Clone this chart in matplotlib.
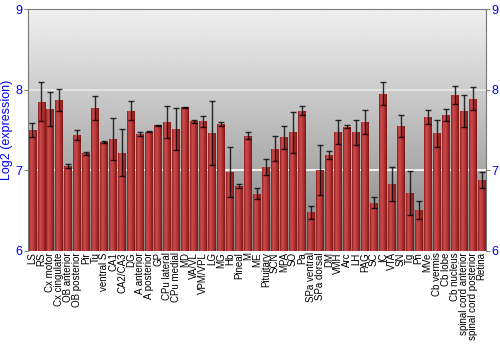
import matplotlib.pyplot as plt
import numpy as np
from matplotlib.colors import LinearSegmentedColormap

plt.rcParams['font.family'] = ['Liberation Sans', 'DejaVu Sans']

# brain regions
regions = ['LS', 'RS', 'Cx motor', 'Cx cingulate', 'OB anterior', 'OB posterior',
           'Pir', 'Tu', 'ventral S', 'CA1', 'CA2/CA3', 'DG', 'A anterior',
           'A posterior', 'GP', 'CPu lateral', 'CPu medial', 'MD', 'VA/VL',
           'VPM/VPL', 'LG', 'MG', 'Hb', 'Pineal', 'M', 'ME', 'Pituitary', 'SCN',
           'MPA', 'SO', 'Pa', 'SPa ventral', 'SPa dorsal', 'DM', 'VMH', 'Arc',
           'LH', 'PAG', 'SC', 'IC', 'VTA', 'SN', 'Tg', 'Pn', 'MVe', 'Cb vermis',
           'Cb lobe', 'Cb nucleus', 'spinal cord anterior', 'spinal cord posterior',
           'Retina']

# mean log2 expression
means = [7.50, 7.85, 7.76, 7.87, 7.05, 7.44, 7.21, 7.77, 7.35, 7.39, 7.22, 7.74,
         7.45, 7.48, 7.56, 7.60, 7.51, 7.78, 7.61, 7.61, 7.46, 7.58, 6.98, 6.81,
         7.43, 6.71, 7.04, 7.27, 7.41, 7.47, 7.74, 6.48, 7.01, 7.19, 7.48, 7.54,
         7.47, 7.60, 6.60, 7.95, 6.83, 7.55, 6.72, 6.51, 7.66, 7.46, 7.69, 7.93,
         7.74, 7.89, 6.88]

# error (half range)
errs = [0.09, 0.24, 0.21, 0.14, 0.025, 0.06, 0.015, 0.15, 0.01, 0.26, 0.29, 0.12,
        0.03, 0.01, 0.005, 0.20, 0.26, 0.01, 0.02, 0.07, 0.40, 0.025, 0.31, 0.025,
        0.04, 0.065, 0.095, 0.16, 0.14, 0.25, 0.055, 0.08, 0.31, 0.05, 0.15, 0.02,
        0.155, 0.15, 0.07, 0.14, 0.21, 0.14, 0.27, 0.11, 0.085, 0.17, 0.075, 0.11,
        0.20, 0.14, 0.105]

x = np.arange(len(regions))

fig = plt.figure(figsize=(5, 3.5), dpi=100)
ax = fig.add_axes([0.056, 0.283, 0.916, 0.691])

# gray gradient background
bg = np.linspace(0.94, 0.52, 256).reshape(-1, 1)
ax.imshow(bg, cmap='gray', vmin=0, vmax=1, aspect='auto',
          extent=[-0.5, len(x) - 0.5, 6, 9], zorder=0)

ax.axhline(7, color='white', lw=1.2, zorder=1)
ax.axhline(8, color='#e8e8e8', lw=1.2, zorder=1)

bars = ax.bar(x, np.array(means) - 6, bottom=6, width=0.88,
              color='#b03232', edgecolor='none', zorder=2)

# shaded bars
redmap = LinearSegmentedColormap.from_list(
    'r', ['#8c1c1c', '#cc4c4c', '#c04040', '#a82c2c', '#7a1515'])
grad = np.linspace(0, 1, 64).reshape(1, -1)
for b in bars:
    im = ax.imshow(grad, cmap=redmap, aspect='auto', zorder=2,
                   extent=[b.get_x(), b.get_x() + b.get_width(), 6, b.get_y() + b.get_height()])
    im.set_clip_path(b)

ax.errorbar(x, means, yerr=errs, fmt='none', ecolor='black', elinewidth=1,
            capsize=2, capthick=1, alpha=0.8, zorder=3)

ax.set_xlim(-0.5, len(x) - 0.5)
ax.set_ylim(6, 9)
ax.set_yticks([6, 7, 8, 9])
ax.set_xticks(x)
ax.set_xticklabels(regions, rotation=90, fontsize=7)
ax.tick_params(axis='x', length=0, pad=1)
ax.tick_params(axis='y', colors='#888888', labelcolor='blue', labelsize=9,
               right=True, labelright=True, length=3, pad=1)
ax.set_ylabel('Log2 (expression)', color='blue', fontsize=9, labelpad=2)

for s in ['top', 'left', 'right']:
    ax.spines[s].set_color('#777777')
ax.spines['bottom'].set_visible(False)

plt.savefig('out.png', dpi=100)
